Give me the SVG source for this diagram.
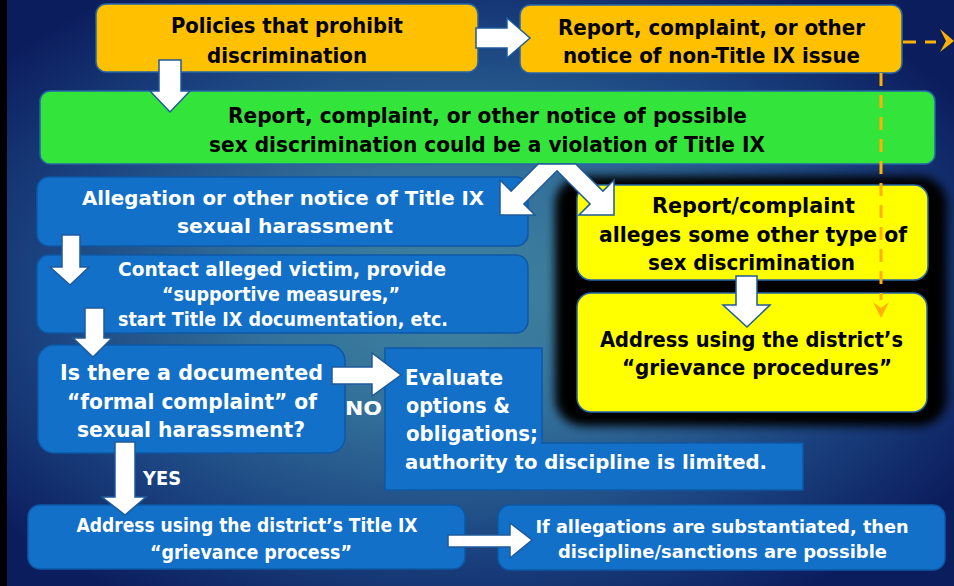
<svg xmlns="http://www.w3.org/2000/svg" width="954" height="586" viewBox="0 0 954 586">
<defs>
<radialGradient id="bg" cx="0.48" cy="0.5" r="0.62">
<stop offset="0" stop-color="#41859f"/>
<stop offset="0.35" stop-color="#33709a"/>
<stop offset="0.7" stop-color="#1b4480"/>
<stop offset="1" stop-color="#0c1d5e"/>
</radialGradient>
<filter id="blur" x="-10%" y="-10%" width="120%" height="120%">
<feGaussianBlur stdDeviation="5"/>
</filter>
<style>
.t{font-family:"DejaVu Sans","Liberation Sans",sans-serif;font-weight:bold;text-anchor:middle}
.l{font-family:"DejaVu Sans","Liberation Sans",sans-serif;font-weight:bold}
.dk{fill:#000}
.wh{fill:#fff}
.orange{fill:#FFC000;stroke:#2466a8;stroke-width:1.5}
.green{fill:#33E43A;stroke:#2466a8;stroke-width:1.5}
.blue{fill:#1270C8;stroke:#0d58a6;stroke-width:1.5}
.yellow{fill:#FFFF00;stroke:#2466a8;stroke-width:1.5}
.arr{fill:#fff;stroke:#1f5a9a;stroke-width:1.5;stroke-linejoin:miter}
.dash{fill:none;stroke:#FFB000;stroke-width:3;stroke-dasharray:13 9}
.head{fill:#FFB000}
</style>
</defs>
<rect width="954" height="586" fill="url(#bg)"/>
<rect x="0" y="0" width="7" height="586" fill="#000"/>
<rect x="555" y="176" width="392" height="250" rx="28" fill="#000" filter="url(#blur)"/>

<g id="policies">
<rect class="orange" x="96" y="4" width="382" height="68" rx="10"/>
<text class="t dk" x="287" y="33" font-size="21" textLength="232" lengthAdjust="spacingAndGlyphs">Policies that prohibit</text>
<text class="t dk" x="287" y="63" font-size="21" textLength="160" lengthAdjust="spacingAndGlyphs">discrimination</text>
</g>
<g id="nontitle">
<rect class="orange" x="520" y="5" width="382" height="68" rx="10"/>
<text class="t dk" x="711.5" y="35" font-size="21" textLength="307" lengthAdjust="spacingAndGlyphs">Report, complaint, or other</text>
<text class="t dk" x="711.5" y="63" font-size="21" textLength="297" lengthAdjust="spacingAndGlyphs">notice of non-Title IX issue</text>
</g>
<g id="possible">
<rect class="green" x="40" y="91" width="895" height="73" rx="10"/>
<text class="t dk" x="487.5" y="123" font-size="22" textLength="519" lengthAdjust="spacingAndGlyphs">Report, complaint, or other notice of possible</text>
<text class="t dk" x="487" y="152" font-size="22" textLength="556" lengthAdjust="spacingAndGlyphs">sex discrimination could be a violation of Title IX</text>
</g>
<g id="allegation">
<rect class="blue" x="37" y="177" width="491" height="69" rx="12"/>
<text class="t wh" x="283" y="205" font-size="20" textLength="402" lengthAdjust="spacingAndGlyphs">Allegation or other notice of Title IX</text>
<text class="t wh" x="285" y="233" font-size="20" textLength="216" lengthAdjust="spacingAndGlyphs">sexual harassment</text>
</g>
<g id="contact">
<rect class="blue" x="37" y="255" width="491" height="78" rx="12"/>
<text class="t wh" x="282" y="276" font-size="19" textLength="328" lengthAdjust="spacingAndGlyphs">Contact alleged victim, provide</text>
<text class="t wh" x="281" y="301" font-size="19" textLength="238" lengthAdjust="spacingAndGlyphs">“supportive measures,”</text>
<text class="t wh" x="283" y="326" font-size="19" textLength="330" lengthAdjust="spacingAndGlyphs">start Title IX documentation, etc.</text>
</g>
<g id="formal">
<rect class="blue" x="38" y="345" width="307" height="108" rx="16"/>
<text class="t wh" x="191.5" y="380" font-size="22" textLength="263" lengthAdjust="spacingAndGlyphs">Is there a documented</text>
<text class="t wh" x="192" y="409" font-size="22" textLength="250" lengthAdjust="spacingAndGlyphs">“formal complaint” of</text>
<text class="t wh" x="191" y="437" font-size="22" textLength="228" lengthAdjust="spacingAndGlyphs">sexual harassment?</text>
</g>
<g id="evaluate">
<path class="blue" d="M385,348 H542 V443 H803 V490 H385 Z"/>
<text class="l wh" x="405" y="385" font-size="21" textLength="98" lengthAdjust="spacingAndGlyphs">Evaluate</text>
<text class="l wh" x="406" y="413" font-size="21" textLength="104" lengthAdjust="spacingAndGlyphs">options &amp;</text>
<text class="l wh" x="406" y="441" font-size="21" textLength="132" lengthAdjust="spacingAndGlyphs">obligations;</text>
<text class="l wh" x="405" y="469" font-size="19" textLength="362" lengthAdjust="spacingAndGlyphs">authority to discipline is limited.</text>
</g>
<g id="process">
<rect class="blue" x="28" y="505" width="437" height="64" rx="12"/>
<text class="t wh" x="247" y="532" font-size="19" textLength="341" lengthAdjust="spacingAndGlyphs">Address using the district’s Title IX</text>
<text class="t wh" x="251" y="559" font-size="19" textLength="202" lengthAdjust="spacingAndGlyphs">“grievance process”</text>
</g>
<g id="sanctions">
<rect class="blue" x="498" y="505" width="447" height="65" rx="12"/>
<text class="t wh" x="722" y="533" font-size="18" textLength="373" lengthAdjust="spacingAndGlyphs">If allegations are substantiated, then</text>
<text class="t wh" x="722.5" y="558" font-size="18" textLength="329" lengthAdjust="spacingAndGlyphs">discipline/sanctions are possible</text>
</g>
<g id="otherType">
<rect class="yellow" x="577" y="185" width="351" height="95" rx="14"/>
<text class="t dk" x="753.5" y="213" font-size="21" textLength="203" lengthAdjust="spacingAndGlyphs">Report/complaint</text>
<text class="t dk" x="753" y="242" font-size="21" textLength="308" lengthAdjust="spacingAndGlyphs">alleges some other type of</text>
<text class="t dk" x="751.5" y="270" font-size="21" textLength="207" lengthAdjust="spacingAndGlyphs">sex discrimination</text>
</g>
<g id="grievance">
<rect class="yellow" x="577" y="293" width="350" height="119" rx="14"/>
<text class="t dk" x="751.5" y="347" font-size="22" textLength="303" lengthAdjust="spacingAndGlyphs">Address using the district’s</text>
<text class="t dk" x="757" y="375" font-size="22" textLength="270" lengthAdjust="spacingAndGlyphs">“grievance procedures”</text>
</g>

<g id="connectors">
<polygon class="arr" points="538.2,164 511.1,191.1 500,180 500,215 535,215 523.9,203.9 557,170.8 590.1,203.9 579,215 614,215 614,180 602.9,191.1 575.8,164"/>
<polygon class="arr" points="159,60 181,60 181,91 190,91 170,112 150,91 159,91"/>
<polygon class="arr" points="476,28 507,28 507,18 530,38 507,58 507,48 476,48"/>
<polygon class="arr" points="62,235 80,235 80,267 89,267 70,285 50,267 62,267"/>
<polygon class="arr" points="85,308 104,308 104,338 112,338 93,357 73,338 85,338"/>
<polygon class="arr" points="332,367 372,367 372,353 401,375 372,396 372,384 332,384"/>
<polygon class="arr" points="115,442 135,442 135,497 146,497 125,515 102,497 115,497"/>
<polygon class="arr" points="448,535 510,535 510,523 532,540 510,558 510,547 448,547"/>
<polygon class="arr" points="736,276 757,276 757,305 770,305 747,327 723,305 736,305"/>
<line class="dash" x1="903" y1="42" x2="936" y2="42"/>
<polygon class="head" points="940,29 954,41 940,52 946,41"/>
<line class="dash" x1="881" y1="73" x2="881" y2="300"/>
<polygon class="head" points="873,302 881,318 889,302 881,308"/>
<text class="l wh" x="345" y="415" font-size="19" textLength="37" lengthAdjust="spacingAndGlyphs">NO</text>
<text class="l wh" x="143" y="485" font-size="20" textLength="38" lengthAdjust="spacingAndGlyphs">YES</text>
</g>
</svg>
